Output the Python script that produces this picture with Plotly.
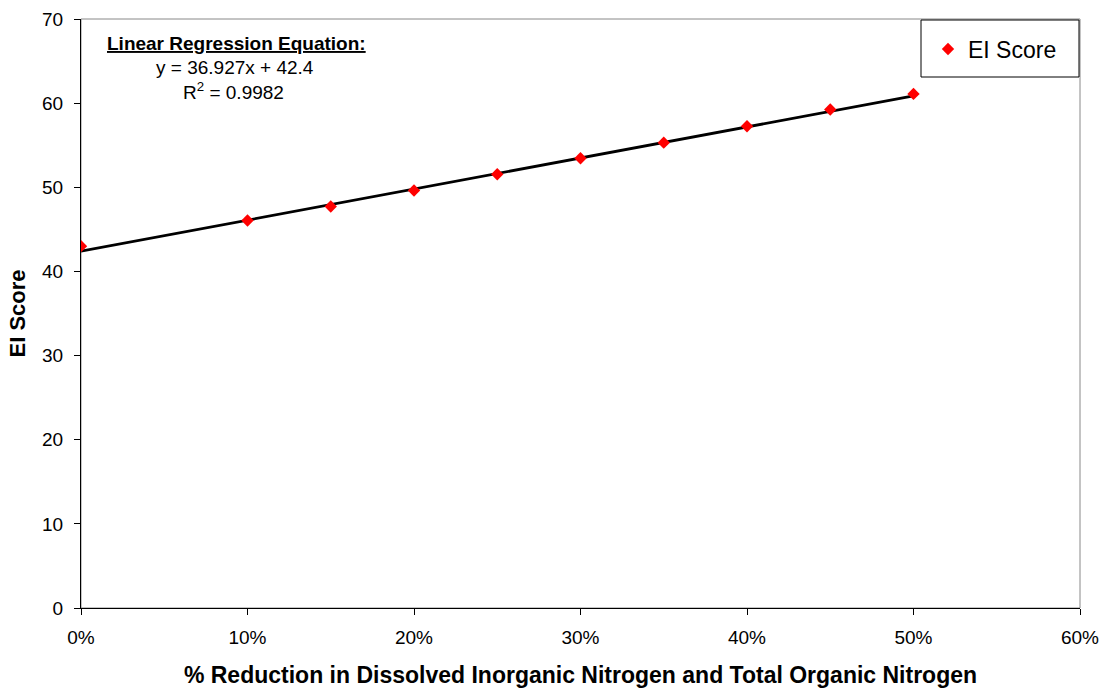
import plotly.graph_objects as go

reduction = [0.0, 0.10, 0.15, 0.20, 0.25, 0.30, 0.35, 0.40, 0.45, 0.50]
ei_score = [43.0, 46.05, 47.72, 49.62, 51.55, 53.45, 55.3, 57.25, 59.25, 61.1]
slope = 36.927
intercept = 42.4
trend_x = [0.0, 0.50]
trend_y = [slope * x + intercept for x in trend_x]

x_ticks = [0, 0.1, 0.2, 0.3, 0.4, 0.5, 0.6]
y_ticks = [0, 10, 20, 30, 40, 50, 60, 70]

FONT = "Liberation Sans, Arial, sans-serif"

# body margin is removed by post_script; plot area targets x 81..1080, y 19..608
OFF = 0
PL, PR, PT, PB = 81, 1080, 19, 608
W, H = 1105 - OFF, 688 - OFF
PW, PH = PR - PL, PB - PT


def px(x):
    return (x - PL) / PW


def py(y):
    return (PB - y) / PH


fig = go.Figure()
fig.add_trace(go.Scatter(x=trend_x, y=trend_y, mode="lines",
                         line=dict(color="black", width=2.8),
                         showlegend=False, hoverinfo="skip"))
fig.add_trace(go.Scatter(x=reduction, y=ei_score, mode="markers", name="EI Score",
                         marker=dict(symbol="diamond", color="#ff0000", size=9.5,
                                     line=dict(width=0))))

fig.update_layout(
    width=W, height=H,
    margin=dict(l=PL - OFF, r=W + OFF - PR, t=PT - OFF, b=H + OFF - PB, pad=0,
                autoexpand=False),
    paper_bgcolor="white", plot_bgcolor="white",
    font=dict(family=FONT, size=19, color="black"),
    showlegend=True,
    legend=dict(x=px(995), y=py(49), xanchor="center", yanchor="middle",
                bgcolor="rgba(0,0,0,0)", borderwidth=0,
                font=dict(size=23, family=FONT), itemwidth=30),
    shapes=[
        dict(type="rect", xref="paper", yref="paper", x0=0, x1=1, y0=0, y1=1,
             line=dict(color="#888888", width=1), layer="below"),
        dict(type="rect", xref="paper", yref="paper", x0=px(921), x1=px(1079),
             y0=py(77), y1=py(20), line=dict(color="black", width=1),
             fillcolor="rgba(0,0,0,0)"),
    ],
    annotations=[
        dict(text="<b><u>Linear Regression Equation:</u></b>", xref="paper", yref="paper",
             x=px(236), y=py(43), showarrow=False,
             xanchor="center", yanchor="middle", font=dict(size=19)),
        dict(text="y = 36.927x + 42.4", xref="paper", yref="paper",
             x=px(235), y=py(67), showarrow=False,
             xanchor="center", yanchor="middle", font=dict(size=19)),
        dict(text="R<sup>2</sup> = 0.9982", xref="paper", yref="paper",
             x=px(233), y=py(91), showarrow=False,
             xanchor="center", yanchor="middle", font=dict(size=19)),
    ],
)

fig.update_xaxes(range=[0, 0.6], tickvals=x_ticks, tickformat=".0%",
                 automargin=False,
                 showgrid=False, zeroline=False, showline=True, linecolor="black",
                 linewidth=1, ticks="outside", ticklen=6, tickcolor="black",
                 tickfont=dict(size=19), ticklabelstandoff=6,
                 title=dict(text="<b>% Reduction in Dissolved Inorganic Nitrogen and Total Organic Nitrogen</b>",
                            font=dict(size=23), standoff=21))
fig.update_yaxes(range=[0, 70], tickvals=y_ticks,
                 automargin=False,
                 showgrid=False, zeroline=False, showline=True, linecolor="black",
                 linewidth=1, ticks="outside", ticklen=6, tickcolor="black",
                 tickfont=dict(size=19), ticklabelstandoff=7,
                 title=dict(text="<b>EI Score</b>", font=dict(size=22), standoff=10))

fig.write_html("out.html", config={"displayModeBar": False},
               post_script="document.body.style.margin='0';document.body.style.overflow='hidden';")
